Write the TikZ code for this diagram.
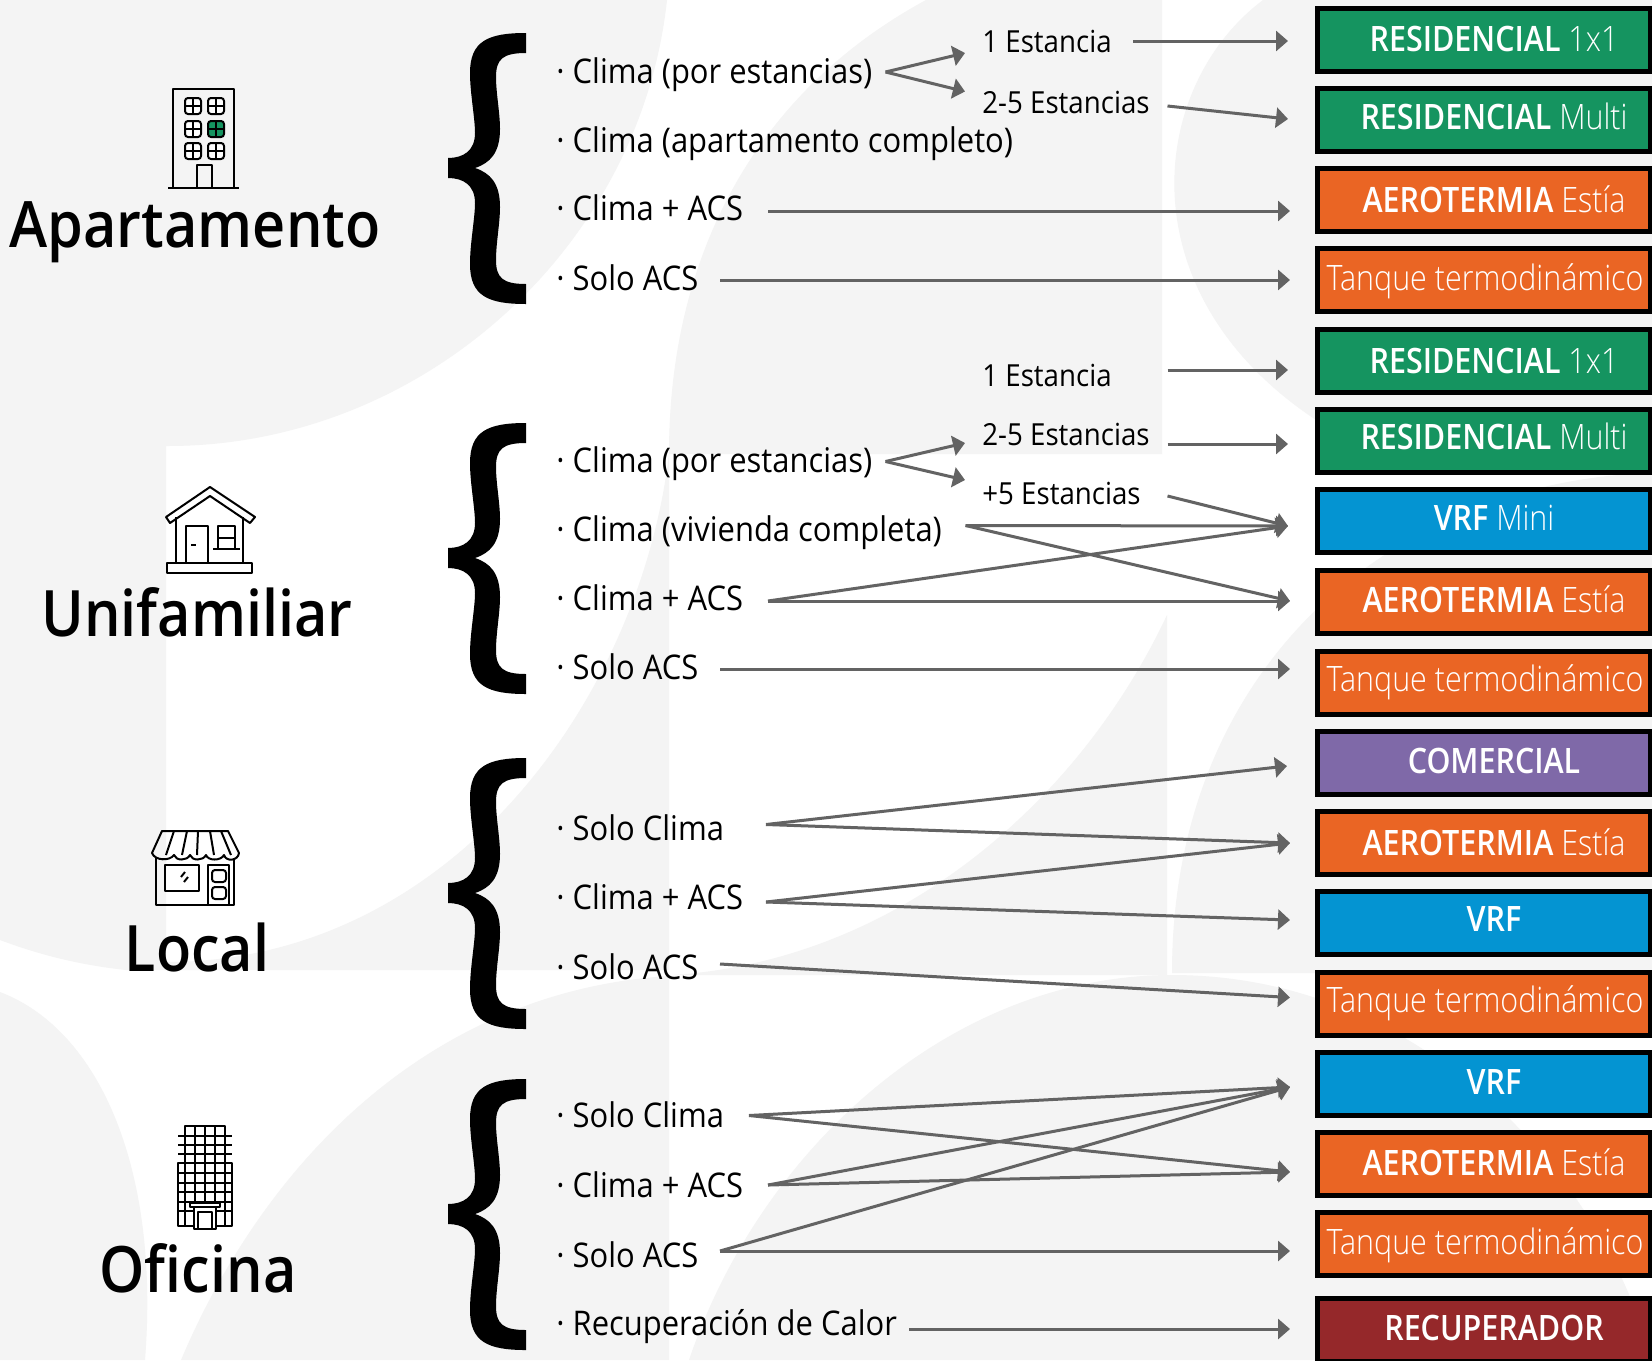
\documentclass[tikz,border=0pt]{standalone}
\usepackage{fontspec}
\setmainfont{Open Sans}
\IfFontExistsTF{Open Sans Light}{\newfontfamily\lightfont{Open Sans Light}[FakeStretch=0.87]}{%
  \IfFontExistsTF{OpenSans-Light}{\newfontfamily\lightfont{OpenSans-Light}[FakeStretch=0.87]}{%
  \IfFontExistsTF{Lato Light}{\newfontfamily\lightfont{Lato Light}}{\newfontfamily\lightfont{Open Sans}[FakeStretch=0.87]}}}
\IfFontExistsTF{Open Sans Semibold}{\newfontfamily\boldfont{Open Sans Semibold}[FakeStretch=0.87]
  \newfontfamily\headfont{Open Sans Semibold}[FakeStretch=0.9]}{%
  \newfontfamily\boldfont{Open Sans}[FakeStretch=0.87,FakeBold=0.6]
  \newfontfamily\headfont{Open Sans}[FakeStretch=0.9,FakeBold=0.6]}
\newfontfamily\optfont{Open Sans}[FakeStretch=0.91]
\usetikzlibrary{%
  arrows.meta,%
  positioning,% wg. " of "
}
\definecolor{bggray}{HTML}{F4F4F4}
\definecolor{arrowgray}{HTML}{636363}
\definecolor{resgreen}{HTML}{159460}
\definecolor{aeroorange}{HTML}{EA6524}
\definecolor{vrfblue}{HTML}{0494D2}
\definecolor{compurple}{HTML}{7F69A8}
\definecolor{recred}{HTML}{95282A}

\tikzset{
  prodbox/.style={draw=black,line width=2.5pt,minimum width=166.5pt,minimum height=31.5pt,outer sep=0pt,
    anchor=north west,inner sep=0pt},
  prodtext/.style={anchor=base,inner sep=0pt,text=white,font=\boldfont\fontsize{17.5}{18}\selectfont},
  optline/.style={anchor=base west,inner sep=0pt,font=\optfont\fontsize{17}{18}\selectfont},
  subline/.style={anchor=base west,inner sep=0pt,font=\optfont\fontsize{15.2}{18}\selectfont},
  headline/.style={anchor=base,inner sep=0pt,font=\headfont\fontsize{32}{34}\selectfont},
  link/.style={draw=arrowgray,line width=1.5pt,-{Triangle[length=6pt,width=10pt]}},
  icon/.style={line width=1pt,line join=round},
}

\begin{document}
\begin{tikzpicture}[x=0.5pt,y=-0.5pt]

\useasboundingbox (0,0) rectangle (1652,1360);
\fill[white] (0,0) rectangle (1652,1360);

% background swooshes
\fill[bggray] (0,0) -- (667,0) .. controls (640,250) and (420,446) .. (168,446)
  -- (166,446) -- (166,970) -- (126,970) .. controls (80,965) and (40,955) .. (0,940) -- cycle;
\fill[bggray] (926,0) .. controls (760,90) and (669,250) .. (669,454) -- (1162,454) -- (1162,0) -- cycle;
\fill[bggray] (669,454) .. controls (640,700) and (450,962) .. (166,962) -- (166,970) -- (669,970) -- cycle;
\fill[bggray] (673,975) .. controls (900,960) and (1080,800) .. (1167,615) -- (1167,975) -- cycle;
\fill[bggray] (1652,473) .. controls (1400,480) and (1172,660) .. (1172,973) -- (1652,973) -- cycle;
\fill[bggray] (1263,0) .. controls (1130,100) and (1120,360) .. (1420,472) -- (1652,472) -- (1652,0) -- cycle;
\fill[bggray] (0,992) .. controls (100,1030) and (160,1170) .. (145,1360) -- (0,1360) -- cycle;
\fill[bggray] (181,1360) .. controls (270,1150) and (440,990) .. (669,976) -- (669,1360) -- cycle;
\fill[bggray] (689,1360) .. controls (760,1150) and (950,975) .. (1172,975)
  .. controls (1420,975) and (1600,1170) .. (1652,1360) -- cycle;

% braces
\foreach \bracetop in {33,423,758,1079} {
  \fill[black,shift={(448,\bracetop)}] (78,0) .. controls (40,0) and (22,8) .. (22,40)
    .. controls (22,60) and (27,85) .. (27,100) .. controls (27,118) and (15,125) .. (0,125)
    -- (0,145) .. controls (15,145) and (27,152) .. (27,170) .. controls (27,185) and (22,210) .. (22,231)
    .. controls (22,263) and (40,271) .. (78,271) -- (78,251)
    .. controls (55,251) and (48,245) .. (48,227) .. controls (48,210) and (52,190) .. (52,174)
    .. controls (52,150) and (42,140) .. (27,135) .. controls (42,130) and (52,120) .. (52,96)
    .. controls (52,80) and (48,60) .. (48,44) .. controls (48,26) and (55,20) .. (78,20) -- cycle;
}

% product boxes
\foreach \boxname/\boxtop/\boxcol/\textx/\textbase/\boxtext in {
  resA/8.5/resgreen/1494/51.5/{RESIDENCIAL {\lightfont 1x1}},
  mulA/88.5/resgreen/1494/129.5/{RESIDENCIAL {\lightfont Multi}},
  aerA/168.5/aeroorange/1494/212/{AEROTERMIA {\lightfont Estía}},
  tanA/248.5/aeroorange/1485/290/{\lightfont Tanque termodinámico},
  resB/329.5/resgreen/1494/373/{RESIDENCIAL {\lightfont 1x1}},
  mulB/409.5/resgreen/1494/449.5/{RESIDENCIAL {\lightfont Multi}},
  vrfB/489.5/vrfblue/1494/530/{VRF {\lightfont Mini}},
  aerB/570/aeroorange/1494/612.5/{AEROTERMIA {\lightfont Estía}},
  tanB/651.5/aeroorange/1485/691.5/{\lightfont Tanque termodinámico},
  comC/731/compurple/1494/773/{COMERCIAL},
  aerC/811/aeroorange/1494/855/{AEROTERMIA {\lightfont Estía}},
  vrfC/891/vrfblue/1494/931.5/{VRF},
  tanC/972.5/aeroorange/1485/1012.5/{\lightfont Tanque termodinámico},
  vrfD/1052.5/vrfblue/1494/1094/{VRF},
  aerD/1132.5/aeroorange/1494/1175.5/{AEROTERMIA {\lightfont Estía}},
  tanD/1212.5/aeroorange/1485/1254/{\lightfont Tanque termodinámico},
  recD/1298.5/recred/1494/1340.5/{RECUPERADOR}} {
  \node[prodbox,fill=\boxcol] (\boxname) at (1317.5,\boxtop) {};
  \node[prodtext] (\boxname-text) at (\textx,\textbase) {\boxtext};
}

% group titles
\node[headline] (apto) at (195,247.5) {Apartamento};
\node[headline] (unif) at (197,636.5) {Unifamiliar};
\node[headline] (loca) at (197,971) {Local};
\node[headline] (ofic) at (198,1292.5) {Oficina};

% options
\foreach \optname/\opty/\opttext in {
  aClimaEst/82/{· Clima (por estancias)},
  aClimaCom/150.5/{· Clima (apartamento completo)},
  aClimaAcs/219/{· Clima + ACS},
  aSoloAcs/289/{· Solo ACS},
  bClimaEst/470.5/{· Clima (por estancias)},
  bClimaCom/540/{· Clima (vivienda completa)},
  bClimaAcs/609/{· Clima + ACS},
  bSoloAcs/678/{· Solo ACS},
  cSoloCli/839/{· Solo Clima},
  cClimaAcs/908/{· Clima + ACS},
  cSoloAcs/978/{· Solo ACS},
  dSoloCli/1126/{· Solo Clima},
  dClimaAcs/1196/{· Clima + ACS},
  dSoloAcs/1265.5/{· Solo ACS},
  dRecup/1334/{· Recuperación de Calor}} {
  \node[optline] (\optname) at (556,\opty+1.5) {\opttext};
}
\foreach \subname/\suby/\subtext in {
  aUno/52/{1 Estancia},
  aDos/113/{2-5 Estancias},
  bUno/386/{1 Estancia},
  bDos/445/{2-5 Estancias},
  bCinco/504.5/{+5 Estancias}} {
  \node[subline] (\subname) at (982,\suby) {\subtext};
}

% connector ends
\foreach \cname/\cx/\cy in {
  sA1/885.5/72,tA1/965/53,tA2/965/91.5,
  sA2/1133/41,eA2/1288/41,sA3/1167.5/106,eA3/1288/119,
  sA4/768/211,eA4/1290/211,sA5/720/280,eA5/1290/280,
  sB1/885.5/461.5,tB1/965/443,tB2/965/480,
  sB2/1167.5/370,eB2/1288/370,sB3/1167.5/444,eB3/1288/444,
  sB4/1167.5/496,eB4/1288/526,sB5/965.5/525.5,eB5/1290/601,
  sB6/768/601,sB7/720/669,eB7/1290/669,
  sC1/766/824.5,eC1/1287/766,eC2/1290/843,
  sC2/766/902,eC3/1290/920,sC3/720/964,eC4/1290/997.5,
  sD1/749/1115.5,eD1/1290/1087,eD2/1290/1172,
  sD2/768/1185,sD3/720/1251,eD3/1290/1251,
  sD4/909/1329,eD4/1290/1329} {
  \coordinate (\cname) at (\cx,\cy);
}

\foreach \from/\to in {
  sA1/tA1,sA1/tA2,sA2/eA2,sA3/eA3,sA4/eA4,sA5/eA5,
  sB1/tB1,sB1/tB2,sB2/eB2,sB3/eB3,sB4/eB4,sB5/eB4,sB5/eB5,sB6/eB4,sB6/eB5,sB7/eB7,
  sC1/eC1,sC1/eC2,sC2/eC2,sC2/eC3,sC3/eC4,
  sD1/eD1,sD1/eD2,sD2/eD1,sD2/eD2,sD3/eD1,sD3/eD3,sD4/eD4} {
  \draw[link] (\from) -- (\to);
}

% apartment building
\begin{scope}[icon]
\draw (173,188) -- (173,89) -- (234,89) -- (234,188);
\draw[line width=1.3pt] (168,188) -- (239,188);
\foreach \wx/\wy/\wcol in {185/98/white,208/98/white,185/121/white,208/121/resgreen,185/143/white,208/143/white} {
  \draw[fill=\wcol,rounded corners=1.5pt] (\wx,\wy) rectangle +(16,16);
  \draw (\wx+8,\wy) -- +(0,16) (\wx,\wy+8) -- +(16,0);
}
\draw (197,188) -- (197,165) -- (212,165) -- (212,188);
\end{scope}

% house
\begin{scope}[icon]
\draw (166,517) -- (210,487) -- (255,517) -- (250,523) -- (210,496) -- (170,523) -- cycle;
\draw (176,517) -- (176,563) (243,517) -- (243,563);
\draw (186,563) -- (186,526) -- (208,526) -- (208,563);
\draw (218,549) -- (218,526) -- (235,526) -- (235,549) (218,538) -- (235,538) (213,549) -- (240,549);
\draw (191,545) -- (196,545);
\draw[line width=1.2pt] (167,563) rectangle (252,573);
\end{scope}

% shop
\begin{scope}[icon]
\draw (162,831) -- (228,831) -- (239,853) .. controls (238,861) and (226,862) .. (224,855)
  .. controls (221,861) and (208,861) .. (206,855) .. controls (203,861) and (192,861) .. (190,855)
  .. controls (187,861) and (176,861) .. (174,855) .. controls (170,861) and (155,861) .. (152,853) -- cycle;
\draw (174,831) -- (166,855) (187,831) -- (182,855) (198,831) -- (197,855) (210,831) -- (214,855) (221,831) -- (231,855);
\draw (156,858) -- (156,905) -- (234,905) -- (234,858);
\draw (165,865) rectangle (199,891);
\draw (185,872) -- (181,877) (188,877) -- (184,882);
\draw (208,905) -- (208,865) -- (229,865) -- (229,905);
\draw[rounded corners=1.5pt] (212,870) rectangle (226,882) (212,887) rectangle (226,899);
\end{scope}

% tower
\begin{scope}[icon]
\draw (185,1126) rectangle (225,1163);
\draw (178,1163) rectangle (232,1226);
\foreach \gx in {195,205,215} {\draw (\gx,1126) -- (\gx,1226);}
\foreach \gx in {185,225} {\draw (\gx,1163) -- (\gx,1226);}
\foreach \gy in {1136,1145,1154,1163,1173,1183,1192,1202,1211} {\draw (178,\gy) -- (232,\gy);}
\draw[fill=white] (190,1203) rectangle (220,1207);
\draw[fill=white] (194,1207) rectangle (216,1229);
\draw (198,1212) rectangle (212,1229);
\end{scope}

\end{tikzpicture}
\end{document}
